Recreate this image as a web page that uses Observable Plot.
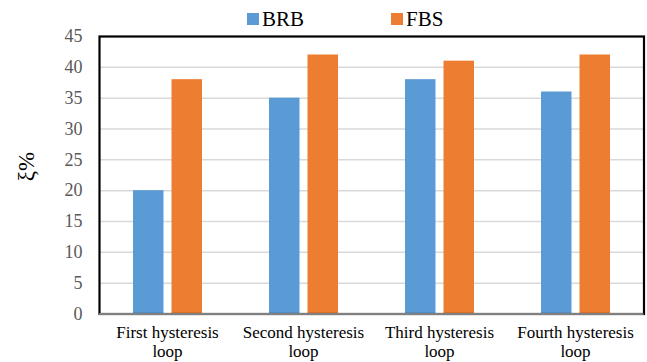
<!DOCTYPE html>
<html>
<head>
<meta charset="utf-8">
<script src="https://cdn.jsdelivr.net/npm/d3@7"></script>
<script src="https://cdn.jsdelivr.net/npm/@observablehq/plot@0.6"></script>
<style>
  body { margin: 0; background: #fff; font-family: "Liberation Serif", "Times New Roman", serif; }
  #wrap { position: relative; width: 647px; height: 362px; }
  .key { position: absolute; top: 7px; font-size: 21px; color: #000; display: flex; align-items: center; line-height: 24px; }
  .key i { display: inline-block; width: 12px; height: 12px; margin-right: 3px; }
</style>
</head>
<body>
<div id="wrap"></div>
<script>
// Damping ratio per hysteresis loop for the two brace systems
const loops = ["First hysteresis loop", "Second hysteresis loop", "Third hysteresis loop", "Fourth hysteresis loop"];
const loopLabels = ["First hysteresis\nloop", "Second hysteresis\nloop", "Third hysteresis\nloop", "Fourth hysteresis\nloop"];
const brb = [20, 35, 38, 36];
const fbs = [38, 42, 41, 42];
const yTicks = [0, 5, 10, 15, 20, 25, 30, 35, 40, 45];
const seriesNames = ["BRB", "FBS"];
const seriesColors = ["#5B9BD5", "#ED7D31"];

const rows = loops.map((loop, i) => ({loop, brb: brb[i], fbs: fbs[i]}));

const chart = Plot.plot({
  width: 647,
  height: 362,
  marginTop: 36,
  marginBottom: 48.5,
  marginLeft: 99,
  marginRight: 3.5,
  style: {fontFamily: "'Liberation Serif', 'Times New Roman', serif", background: "#fff"},
  x: {domain: loops, padding: 0},
  y: {domain: [0, 45]},
  marks: [
    Plot.gridY(yTicks, {stroke: "#d9d9d9", strokeOpacity: 1, strokeWidth: 1.5}),
    Plot.barY(rows, {x: "loop", y: "brb", fill: seriesColors[0], insetLeft: 34, insetRight: 71.5}),
    Plot.barY(rows, {x: "loop", y: "fbs", fill: seriesColors[1], insetLeft: 72.5, insetRight: 33}),
    Plot.frame({stroke: "#000", strokeWidth: 2.2}),
    Plot.ruleY([0], {stroke: "#808080", strokeWidth: 2}),
    Plot.axisY({ticks: yTicks, tickSize: 0, tickPadding: 17, fontSize: 18, color: "#595959", label: null}),
    Plot.axisX({tickSize: 0, tickPadding: 11, fontSize: 17, lineHeight: 1.1, color: "#000", label: null,
      tickFormat: d => loopLabels[loops.indexOf(d)]}),
    Plot.text(["ξ%"], {frameAnchor: "left", rotate: -90, dx: -73, dy: 6, fontSize: 23, fill: "#000"})
  ]
});

const wrap = document.getElementById("wrap");
wrap.appendChild(chart);

// Legend drawn above the plot frame
const keyLeft = [247, 391];
seriesNames.forEach((name, i) => {
  const k = document.createElement("div");
  k.className = "key";
  k.style.left = keyLeft[i] + "px";
  k.innerHTML = `<i style="background:${seriesColors[i]}"></i>${name}`;
  wrap.appendChild(k);
});
</script>
</body>
</html>
